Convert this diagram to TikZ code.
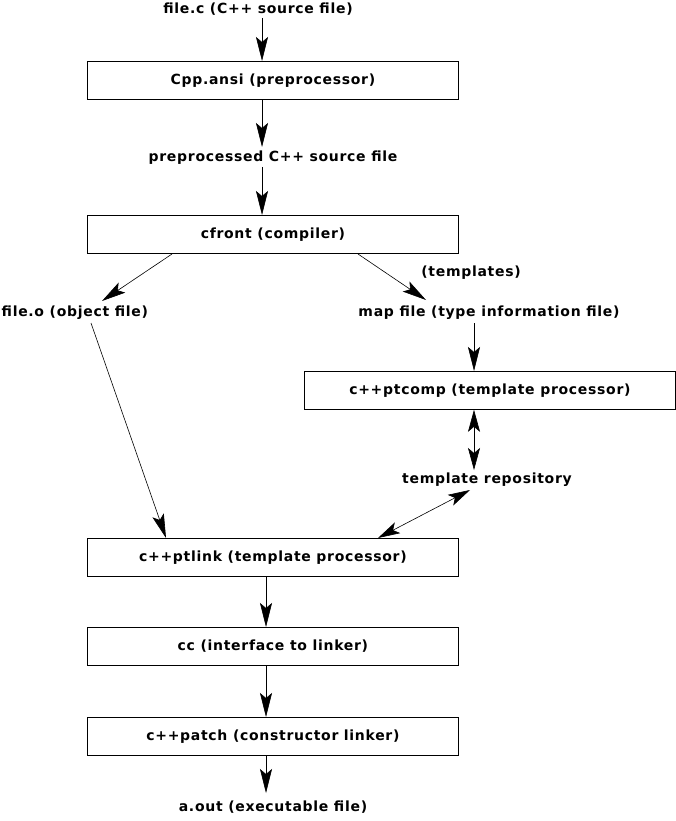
\documentclass[tikz,border=0pt]{standalone}
\usepackage{fontspec}
\setmainfont{DejaVu Sans}[BoldFont={DejaVu Sans Bold}, LetterSpace=5]
\usetikzlibrary{arrows.meta}
\begin{document}
\begin{tikzpicture}[x=1pt,y=-1pt,
  lbl/.style={font=\bfseries\fontsize{14}{16}\selectfont, inner sep=0pt},
  proc/.style={draw, line width=0.8pt, minimum width=371pt, minimum height=38pt, inner sep=0pt, anchor=north west, font=\bfseries\fontsize{14}{16}\selectfont},
  arr/.style={line width=0.6pt, -{Stealth[length=24pt,width=12pt,inset=5pt]}},
  darr/.style={line width=0.6pt, {Stealth[length=22pt,width=12pt,inset=5pt]}-{Stealth[length=22pt,width=12pt,inset=5pt]}}
]
\useasboundingbox (0,0) rectangle (676,821);
% texts
\node[lbl] (src) at (258,9) {file.c (C++ source file)};
\node[proc] (cpp) at (87,61) {Cpp.ansi (preprocessor)};
\node[lbl] (pre) at (273,158) {preprocessed C++ source file};
\node[proc] (cfront) at (87,215) {cfront (compiler)};
\node[lbl, anchor=west] (obj) at (1.5,313) {file.o (object file)};
\node[lbl] (map) at (489,313) {map file (type information file)};
\node[lbl] (tpl) at (471,273) {(templates)};
\node[proc] (ptcomp) at (304,371) {c++ptcomp (template processor)};
\node[lbl] (repo) at (487,480) {template repository};
\node[proc] (ptlink) at (87,538) {c++ptlink (template processor)};
\node[proc] (cc) at (87,627) {cc (interface to linker)};
\node[proc] (patch) at (87,717) {c++patch (constructor linker)};
\node[lbl] (aout) at (273,807) {a.out (executable file)};
% free ends and attachment points
\coordinate (s1) at (262,18);
\coordinate (cppB) at (262,100);
\coordinate (preT) at (262,147);
\coordinate (preB) at (262,167);
\coordinate (cfL) at (172,254);
\coordinate (cfR) at (358,254);
\coordinate (objT) at (102,301);
\coordinate (objB) at (91,323);
\coordinate (mapT) at (426,300);
\coordinate (mapB) at (474,323);
\coordinate (repoT) at (474,470);
\coordinate (repoB) at (470,490);
\coordinate (ptlL) at (166,538);
\coordinate (ptlR) at (378,538);
\coordinate (lowx) at (266,0);
% connectors
\draw[arr] (s1) -- (s1 |- cpp.north);
\draw[arr] (cppB) -- (preT);
\draw[arr] (preB) -- (preB |- cfront.north);
\draw[arr] (cfL) -- (objT);
\draw[arr] (cfR) -- (mapT);
\draw[arr] (mapB) -- (mapB |- ptcomp.north);
\draw[darr] (mapB |- ptcomp.south) -- (repoT);
\draw[darr] (repoB) -- (ptlR);
\draw[arr] (objB) -- (ptlL);
\draw[arr] (lowx |- ptlink.south) -- (lowx |- cc.north);
\draw[arr] (lowx |- cc.south) -- (lowx |- patch.north);
\draw[arr] (lowx |- patch.south) -- (266,793);
\end{tikzpicture}
\end{document}
